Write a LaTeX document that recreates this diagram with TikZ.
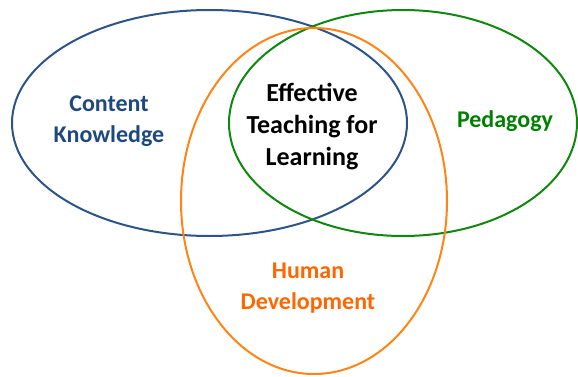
\documentclass[tikz,border=0pt]{standalone}
\usepackage{fontspec}
\setmainfont{Carlito}
\usepackage{tikz}

\definecolor{ckblue}{RGB}{44,84,136}
\definecolor{cktext}{RGB}{31,73,125}
\definecolor{pedgreen}{RGB}{16,136,16}
\definecolor{pedtext}{RGB}{0,128,0}
\definecolor{hdorange}{RGB}{255,132,20}
\definecolor{hdtext}{RGB}{255,102,0}

\tikzset{
  ring/.style={line width=2pt},
  lbl/.style={font=\bfseries\fontsize{24}{31}\selectfont, align=center, inner sep=0pt},
  mainlbl/.style={font=\bfseries\fontsize{26}{32}\selectfont, align=center, inner sep=0pt}
}

\begin{document}
\begin{tikzpicture}[x=1pt,y=1pt]
        \useasboundingbox (0,0) rectangle (578,376);
        \coordinate (cc) at (209.5,253);
        \coordinate (pc) at (403,253);
        \coordinate (hc) at (314,175);

        \draw[ring, ckblue] (cc) ellipse [x radius=197.5, y radius=113];
        \draw[ring, pedgreen] (pc) ellipse [x radius=174, y radius=113];
        \draw[ring, hdorange] (hc) ellipse [x radius=133, y radius=173];

        \node[lbl, text=cktext] (ck) at (109,255) {Content\\Knowledge};
        \node[mainlbl, text=black] (etl) at (312,249) {Effective\\Teaching for\\Learning};
        \node[lbl, text=pedtext] (ped) at (505,255) {Pedagogy};
        \node[lbl, text=hdtext] (hd) at (308,88) {Human\\Development};
    \end{tikzpicture}
\end{document}
